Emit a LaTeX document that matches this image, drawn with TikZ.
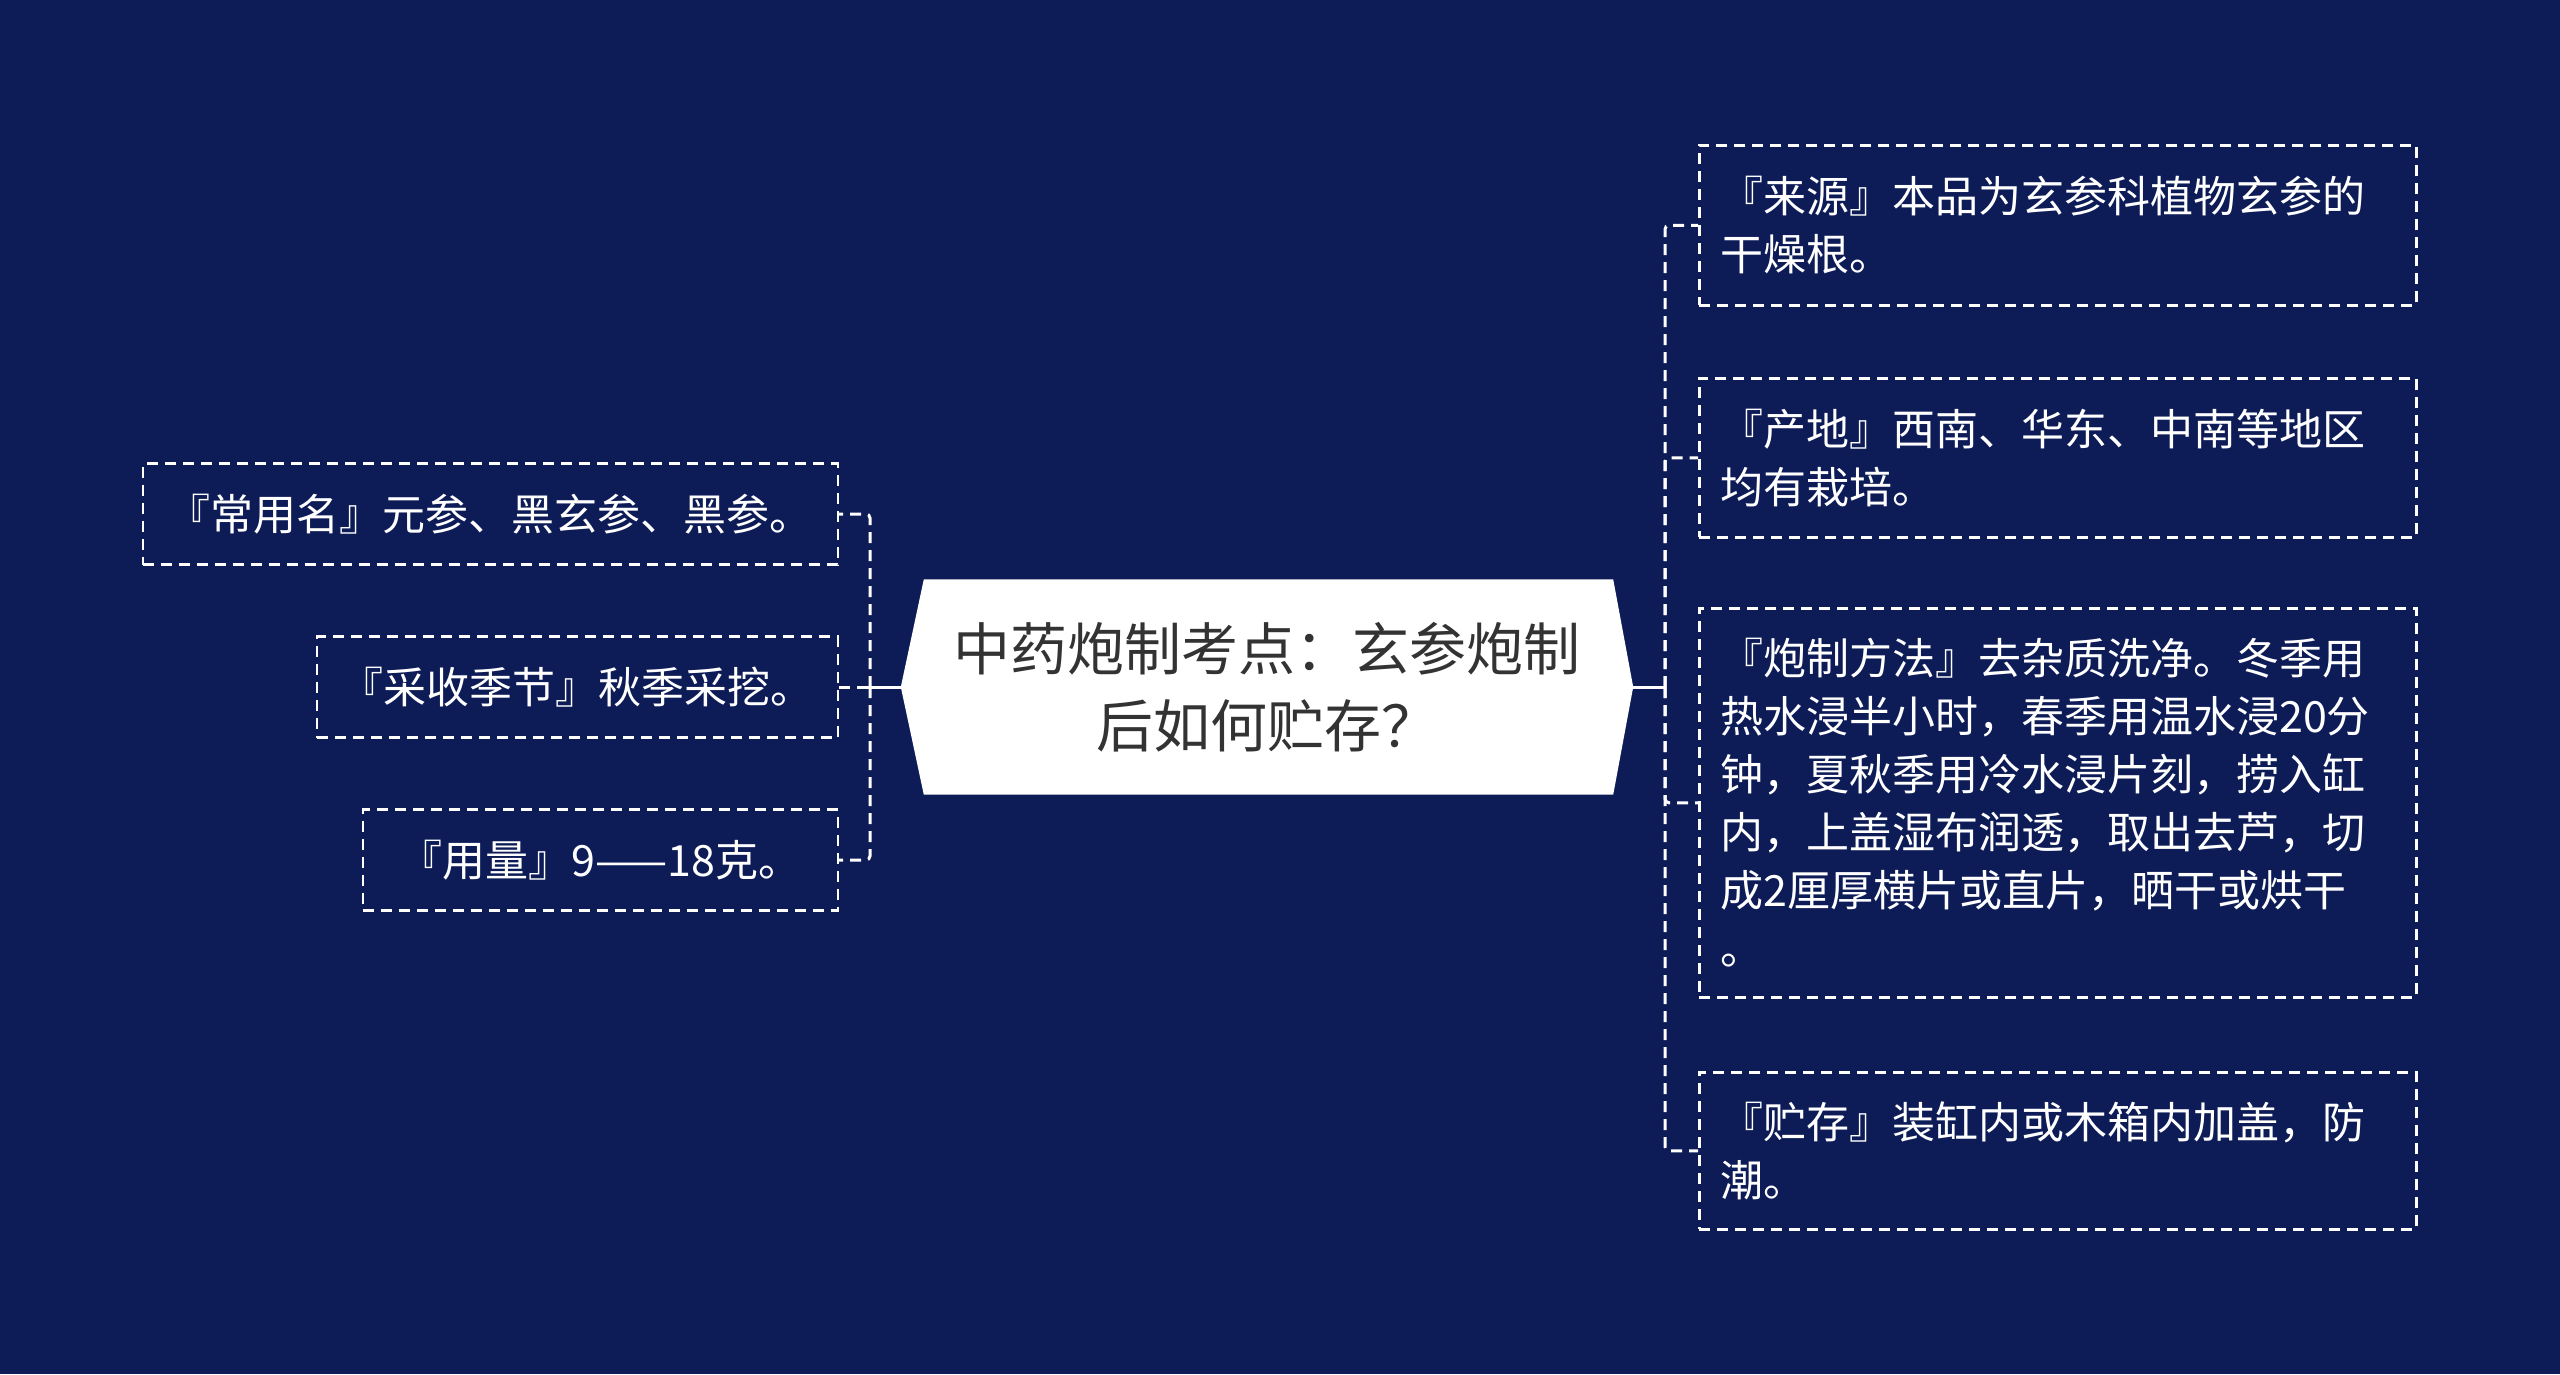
\documentclass[tikz,border=0pt]{standalone}
\usepackage{fontspec}
\setmainfont{Noto Sans CJK SC}
\usetikzlibrary{backgrounds}
\definecolor{bg}{RGB}{13,28,87}
\definecolor{ctext}{RGB}{51,51,51}
\begin{document}
\begin{tikzpicture}[x=1pt,y=-1pt,
  leaf/.style={draw=white, line width=2.5pt, dash pattern=on 11pt off 7pt, text=white,
    font=\fontsize{43}{58}\selectfont, inner xsep=21pt, inner ysep=8pt},
  lleaf/.style={leaf, anchor=east, minimum height=101pt},
  rleaf/.style={leaf, anchor=north west, text width=675pt, align=left},
  link/.style={draw=white, line width=3pt, dash pattern=on 11pt off 7pt, rounded corners=4pt},
  stem/.style={draw=white, line width=3pt}]
\useasboundingbox (0,0) rectangle (2560,1374);

% central topic
\node (c) at (1267,687) [minimum width=732pt, minimum height=215pt, inner sep=0pt,
  text=ctext, font=\fontsize{57}{77}\selectfont, align=center]
  {中药炮制考点：玄参炮制\\后如何贮存？};
\begin{scope}[on background layer]
\fill[bg] (0,0) rectangle (2560,1374);
\fill[white] (c.west) -- ([xshift=23pt]c.north west) -- ([xshift=-20pt]c.north east)
  -- (c.east) -- ([xshift=-20pt]c.south east) -- ([xshift=23pt]c.south west) -- cycle;
\end{scope}

% left leaves
\node[lleaf, minimum width=695pt] (l1) at (839,514) {『常用名』元参、黑玄参、黑参。};
\node[lleaf, minimum width=521pt] (l2) at (839,687) {『采收季节』秋季采挖。};
\node[lleaf, minimum width=475pt] (l3) at (839,860) {『用量』9——18克。};

% right leaves
\node[rleaf, minimum height=160pt] (r1) at (1698,144)
  {『来源』本品为玄参科植物玄参的\\干燥根。};
\node[rleaf, minimum height=159pt] (r2) at (1698,377)
  {『产地』西南、华东、中南等地区\\均有栽培。};
\node[rleaf, minimum height=389pt] (r3) at (1698,607)
  {『炮制方法』去杂质洗净。冬季用\\热水浸半小时，春季用温水浸20分\\钟，夏秋季用冷水浸片刻，捞入缸\\内，上盖湿布润透，取出去芦，切\\成2厘厚横片或直片，晒干或烘干\\。};
\node[rleaf, minimum height=157pt] (r4) at (1698,1071)
  {『贮存』装缸内或木箱内加盖，防\\潮。};

% connectors left
\coordinate (lj) at (870,687);
\coordinate (ls) at (857,687);
\draw[link] (lj) |- (l1.east);
\draw[link] (lj) |- (l3.east);
\draw[link] (l2.east) -- (ls);
\draw[stem] (c.west) -- (ls);

% connectors right
\coordinate (rj) at (1665,687);
\draw[link] (rj) |- (r1.west);
\draw[link] (rj) |- (r2.west);
\draw[link] (rj) |- (r3.west);
\draw[link] (rj) |- (r4.west);
\draw[stem] (c.east) -- (rj);
\end{tikzpicture}
\end{document}
